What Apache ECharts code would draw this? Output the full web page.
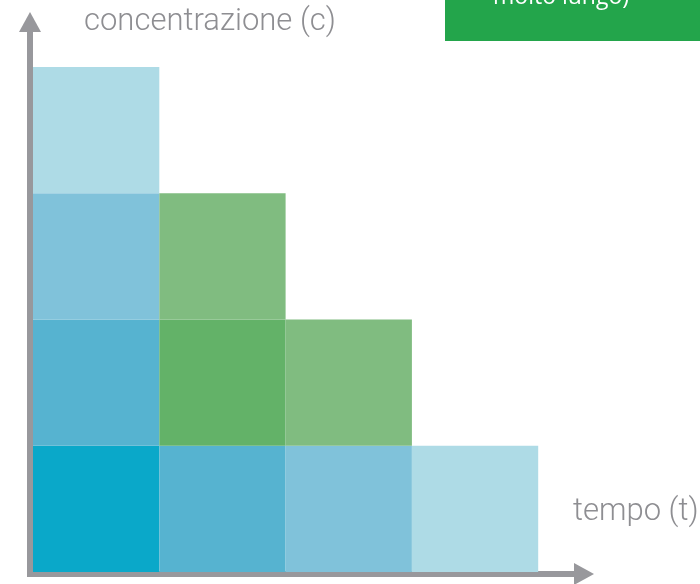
<!DOCTYPE html>
<html>
<head>
<meta charset="utf-8">
<script src="https://cdn.jsdelivr.net/npm/echarts@6/dist/echarts.min.js"></script>
<style>
html,body{margin:0;padding:0;background:#fff;}
#chart{width:700px;height:584px;}
</style>
</head>
<body>
<div id="chart"></div>
<script>
// ---- data ----
const timeSteps = [0, 1, 2, 3];                 // tempo (t) columns
const cellTime  = [0, 0, 0, 0, 1, 1, 1, 2, 2, 3]; // column of each cell
const cellConc  = [0, 1, 2, 3, 0, 1, 2, 0, 1, 0]; // row (concentration level) of each cell
const cellShade = [0, 1, 2, 3, 1, 4, 5, 2, 5, 3]; // shade index of each cell
const yAxisTitle = 'concentrazione (c)';
const xAxisTitle = 'tempo (t)';
const boxText = 'molto lungo)';

// ---- styles ----
const palette = ['#0aa8c9', '#56b3d0', '#80c2da', '#aedbe6', '#63b268', '#80bc80'];
const axisGray = '#98989c';
const textGray = '#8e8e92';

const data = cellTime.map((t, i) => [t, cellConc[i], cellShade[i]]);

const chart = echarts.init(document.getElementById('chart'), null, {renderer: 'canvas'});
chart.setOption({
  animation: false,
  backgroundColor: '#ffffff',
  grid: {left: 30, right: 116, top: 22, bottom: 10},
  xAxis: {
    type: 'value',
    min: -0.0238, max: 4.3626,
    axisLine: {show: true, onZero: false, symbol: ['none', 'triangle'], symbolSize: [22, 20],
      lineStyle: {color: axisGray, width: 6, cap: 'square'}},
    axisTick: {show: false}, axisLabel: {show: false}, splitLine: {show: false}
  },
  yAxis: {
    type: 'value',
    min: -0.0158, max: 4.3564,
    axisLine: {show: true, onZero: false, symbol: ['none', 'triangle'], symbolSize: [22, 20],
      lineStyle: {color: axisGray, width: 6, cap: 'square'}},
    axisTick: {show: false}, axisLabel: {show: false}, splitLine: {show: false}
  },
  series: [{
    type: 'custom',
    data: data,
    z: 1,
    renderItem: function (params, api) {
      const x = api.value(0), y = api.value(1);
      const p0 = api.coord([x, y]);
      const p1 = api.coord([x + 1, y + 1]);
      return {
        type: 'rect',
        shape: {x: p0[0], y: p1[1], width: p1[0] - p0[0], height: p0[1] - p1[1]},
        style: {fill: palette[api.value(2)]}
      };
    }
  }],
  graphic: [
    {type: 'rect', left: 445, top: 0, shape: {width: 255, height: 41}, style: {fill: '#23a54b'}},
    {type: 'text', x: 493, y: -3, style: {text: boxText, fill: '#ffffff', font: '23px "Open Sans"', verticalAlign: 'middle', align: 'left'}},
    {type: 'text', x: 84, y: 22.7, style: {text: yAxisTitle, fill: textGray, font: '300 31px Roboto', verticalAlign: 'middle', align: 'left'}},
    {type: 'text', x: 573, y: 511.8, style: {text: xAxisTitle, fill: textGray, font: '300 31px Roboto', verticalAlign: 'middle', align: 'left'}}
  ]
});
</script>
</body>
</html>
